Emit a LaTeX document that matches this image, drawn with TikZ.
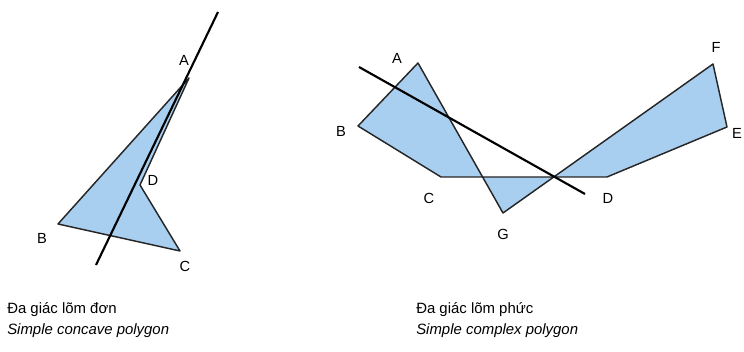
\documentclass[tikz,border=0pt]{standalone}
\usepackage{fontspec}
\setmainfont{Liberation Sans}
\usepackage{xcolor}
\definecolor{polyblue}{RGB}{168,207,240}

\begin{document}
\begin{tikzpicture}[x=0.75pt, y=-0.75pt,
    poly/.style={fill=polyblue, draw=black!85, line width=1.1pt, line join=round},
    cut/.style={black, line width=1.6pt},
    vlab/.style={font=\fontsize{11}{13}\selectfont, inner sep=1pt},
    caption/.style={font=\fontsize{11.2}{13}\selectfont, anchor=west, inner sep=0pt}]
    \useasboundingbox (0,0) rectangle (744,352);

    % --- Simple concave polygon ---
    \coordinate (lA) at (189,78);
    \coordinate (lB) at (58,224);
    \coordinate (lC) at (180,251);
    \coordinate (lD) at (140,185);
    \coordinate (lT) at (218,12);
    \coordinate (lU) at (96,265);
    \draw[poly] (lA) -- (lB) -- (lC) -- (lD) -- cycle;
    \draw[cut] (lT) -- (lU);
    \node[vlab] (labA) at (184,60) {A};
    \node[vlab] (labB) at (42,238) {B};
    \node[vlab] (labC) at (185,266) {C};
    \node[vlab] (labD) at (153,180) {D};

    % --- Simple complex polygon ---
    \coordinate (rA) at (418,63);
    \coordinate (rB) at (358,126);
    \coordinate (rC) at (441,177);
    \coordinate (rD) at (607,177);
    \coordinate (rE) at (727,127);
    \coordinate (rF) at (713,64);
    \coordinate (rG) at (503,213);
    \coordinate (rT) at (359,67);
    \coordinate (rU) at (585,194);
    \draw[poly] (rA) -- (rB) -- (rC) -- (rD) -- (rE) -- (rF) -- (rG) -- cycle;
    \draw[cut] (rT) -- (rU);
    \node[vlab] (labrA) at (397,58) {A};
    \node[vlab] (labrB) at (341,131) {B};
    \node[vlab] (labrC) at (429,198) {C};
    \node[vlab] (labrD) at (608,198) {D};
    \node[vlab] (labrE) at (737,133) {E};
    \node[vlab] (labrF) at (716,47) {F};
    \node[vlab] (labrG) at (503,234) {G};

    % --- Captions ---
    \node[caption] (capL1) at (7,310) {Đa giác lõm đơn};
    \node[caption] (capL2) at (7,331) {\itshape Simple concave polygon};
    \node[caption] (capR1) at (416,310) {Đa giác lõm phức};
    \node[caption] (capR2) at (416,331) {\itshape Simple complex polygon};
\end{tikzpicture}
\end{document}
